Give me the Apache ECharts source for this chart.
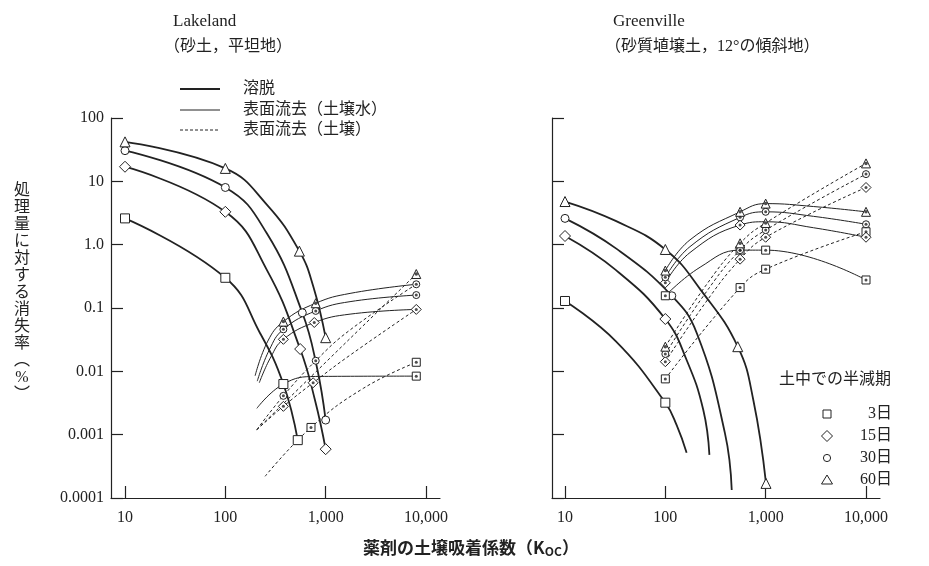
<!DOCTYPE html>
<html><head><meta charset="utf-8">
<script src="https://cdn.jsdelivr.net/npm/echarts@6/dist/echarts.min.js"></script>
<style>html,body{margin:0;padding:0;background:#fff}#c{width:929px;height:566px}</style>
</head><body><div id="c"></div>
<script>
// ---- tick labels ----
const kTickLabels = ['10', '100', '1,000', '10,000'];
const yTickLabels = ['0.0001', '0.001', '0.01', '0.1', '1.0', '10', '100'];
const halfLives = ['3日', '15日', '30日', '60日'];

// ---- Lakeland: leaching (溶脱) curves ----
const lkLeach3 = [[10,2.6],[100,0.30],[222,0.04],[379,0.0063],[527,0.00082]];
const lkLeach15 = [[10,17],[100,3.3],[259,0.4],[557,0.0225],[783,0.0035],[1000,0.00059]];
const lkLeach30 = [[10,30.5],[100,8.0],[259,1.51],[585,0.084],[815,0.0119],[1000,0.0017]];
const lkLeach60 = [[10,42],[100,16],[259,4.3],[547,0.79],[754,0.217],[1000,0.034]];
const lkLeach3Marks = [[10,2.6],[100,0.30],[379,0.0063],[527,0.00082]];
const lkLeach15Marks = [[10,17],[100,3.3],[557,0.0225],[1000,0.00059]];
const lkLeach30Marks = [[10,30.5],[100,8.0],[585,0.084],[1000,0.0017]];
const lkLeach60Marks = [[10,42],[100,16],[547,0.79],[1000,0.034]];
// Lakeland: runoff water (表面流去・土壌水)
const lkWater3 = [[206,0.0026],[379,0.0063],[796,0.0083],[8000,0.0084]];
const lkWater15 = [[218,0.0066],[285,0.017],[379,0.032],[770,0.059],[1750,0.080],[8000,0.095]];
const lkWater30 = [[208,0.007],[275,0.022],[379,0.046],[796,0.090],[1750,0.126],[8000,0.16]];
const lkWater60 = [[198,0.0085],[265,0.03],[379,0.061],[796,0.119],[1750,0.17],[8000,0.237]];
// Lakeland: runoff soil (表面流去・土壌)
const lkSoil3 = [[249,0.00022],[714,0.0013],[2377,0.0054],[8000,0.0139]];
const lkSoil15 = [[206,0.0012],[379,0.0028],[750,0.0066],[1750,0.018],[8000,0.095]];
const lkSoil30 = [[206,0.0012],[379,0.0041],[796,0.0147],[1750,0.045],[8000,0.237]];
const lkSoil60 = [[206,0.0012],[1750,0.033],[8000,0.344]];
// Lakeland runoff markers (with dot)
const lkDotTri = [[379,0.061],[796,0.119],[8000,0.344]];
const lkDotCir = [[379,0.046],[796,0.090],[8000,0.237],[8000,0.16],[379,0.0041],[796,0.0147]];
const lkDotDia = [[379,0.032],[770,0.059],[8000,0.095],[379,0.0028],[750,0.0066]];
const lkDotSq = [[8000,0.0084],[714,0.0013],[8000,0.0139]];

// ---- Greenville: leaching ----
const gvLeach3 = [[10,0.129],[32,0.03],[100,0.0032],[130,0.0014],[163,0.00052]];
const gvLeach15 = [[10,1.37],[32,0.4],[100,0.067],[163,0.0151],[239,0.00245],[275,0.00048]];
const gvLeach30 = [[10,2.6],[33,0.85],[116,0.156],[206,0.040],[393,0.00105],[459,0.000134]];
const gvLeach60 = [[10,4.8],[32,2.37],[100,0.84],[227,0.19],[527,0.0245],[754,0.0035],[1008,0.00017]];
const gvLeach3Marks = [[10,0.129],[100,0.0032]];
const gvLeach15Marks = [[10,1.37],[100,0.067]];
const gvLeach30Marks = [[10,2.6],[116,0.156]];
const gvLeach60Marks = [[10,4.8],[100,0.84],[527,0.0245],[1008,0.00017]];
// Greenville: runoff water
const gvWater3 = [[100,0.156],[222,0.44],[556,0.82],[1000,0.82],[10000,0.277]];
const gvWater15 = [[100,0.25],[176,0.75],[556,2.04],[1000,2.3],[3000,1.85],[10000,1.31]];
const gvWater30 = [[100,0.305],[176,0.93],[556,2.7],[1000,3.3],[3000,2.8],[10000,2.1]];
const gvWater60 = [[100,0.39],[176,1.19],[556,3.3],[1000,4.45],[3000,4.0],[10000,3.3]];
// Greenville: runoff soil
const gvSoil3 = [[100,0.0076],[556,0.21],[1000,0.41],[10000,1.6]];
const gvSoil15 = [[100,0.0142],[250,0.12],[556,0.59],[1000,1.31],[10000,8.0]];
const gvSoil30 = [[100,0.0188],[250,0.17],[556,0.82],[1000,1.7],[10000,13]];
const gvSoil60 = [[100,0.0245],[250,0.22],[556,1.05],[1000,2.2],[10000,19.2]];
// Greenville runoff markers (with dot)
const gvDotTri = [[100,0.39],[556,3.3],[1000,4.45],[10000,3.3],[100,0.0245],[556,1.05],[1000,2.2],[10000,19.2]];
const gvDotCir = [[100,0.305],[556,2.7],[1000,3.3],[10000,2.1],[100,0.0188],[556,0.82],[1000,1.7],[10000,13]];
const gvDotDia = [[100,0.25],[556,2.04],[10000,1.31],[100,0.0142],[556,0.59],[1000,1.31],[10000,8.0]];
const gvDotSq = [[100,0.156],[556,0.82],[1000,0.82],[10000,0.277],[100,0.0076],[556,0.21],[1000,0.41],[10000,1.6]];

// ---- styling ----
const INK = '#222';
const SERIF = "'Liberation Serif','Noto Sans CJK JP',serif";
const CJK = "'Liberation Serif','Noto Sans CJK JP',sans-serif";
const shapeOf = {sq:'rect', dia:'diamond', cir:'circle', tri:'triangle'};
const sizeOf = {sq:9, dia:11, cir:8, tri:10};

function curve(data, ai, kind) {
  return {type:'line', xAxisIndex:ai, yAxisIndex:ai, data:data, smooth:0.45,
    symbol:'none', clip:false, silent:true, z:2,
    lineStyle:{color:INK, width: kind==='leach'?1.8:1, type: kind==='soil'?[3,2.5]:'solid'}};
}
function marks(data, ai, shape, dot) {
  const s = [{type:'scatter', xAxisIndex:ai, yAxisIndex:ai, data:data, clip:false, silent:true, z:4,
    symbol:shapeOf[shape], symbolSize: dot ? sizeOf[shape]-1 : sizeOf[shape],
    itemStyle:{color:'#fff', borderColor:INK, borderWidth:1, opacity:1}}];
  if (dot) s.push({type:'scatter', xAxisIndex:ai, yAxisIndex:ai, data:data, clip:false, silent:true, z:5,
    symbol:'circle', symbolSize: shape==='tri'?3.5:3, itemStyle:{color:INK}});
  return s;
}

const L = 1, R = 3; // data axis indices
const series = [
  curve(lkLeach3,L,'leach'), curve(lkLeach15,L,'leach'), curve(lkLeach30,L,'leach'), curve(lkLeach60,L,'leach'),
  curve(lkWater3,L,'water'), curve(lkWater15,L,'water'), curve(lkWater30,L,'water'), curve(lkWater60,L,'water'),
  curve(lkSoil3,L,'soil'), curve(lkSoil15,L,'soil'), curve(lkSoil30,L,'soil'), curve(lkSoil60,L,'soil'),
  curve(gvLeach3,R,'leach'), curve(gvLeach15,R,'leach'), curve(gvLeach30,R,'leach'), curve(gvLeach60,R,'leach'),
  curve(gvWater3,R,'water'), curve(gvWater15,R,'water'), curve(gvWater30,R,'water'), curve(gvWater60,R,'water'),
  curve(gvSoil3,R,'soil'), curve(gvSoil15,R,'soil'), curve(gvSoil30,R,'soil'), curve(gvSoil60,R,'soil'),
  ...marks(lkLeach3Marks,L,'sq',false), ...marks(lkLeach15Marks,L,'dia',false),
  ...marks(lkLeach30Marks,L,'cir',false), ...marks(lkLeach60Marks,L,'tri',false),
  ...marks(lkDotSq,L,'sq',true), ...marks(lkDotDia,L,'dia',true),
  ...marks(lkDotCir,L,'cir',true), ...marks(lkDotTri,L,'tri',true),
  ...marks(gvLeach3Marks,R,'sq',false), ...marks(gvLeach15Marks,R,'dia',false),
  ...marks(gvLeach30Marks,R,'cir',false), ...marks(gvLeach60Marks,R,'tri',false),
  ...marks(gvDotSq,R,'sq',true), ...marks(gvDotDia,R,'dia',true),
  ...marks(gvDotCir,R,'cir',true), ...marks(gvDotTri,R,'tri',true)
];

const decade = v => Math.round(Math.log10(v));
function frameX(g){ return {gridIndex:g, type:'value', min:0, max:1, axisLine:{show:true, lineStyle:{color:INK, width:1.2}},
  axisTick:{show:false}, axisLabel:{show:false}, splitLine:{show:false}}; }
function dataX(g){ return {gridIndex:g, type:'log', logBase:10, min:10, max:10000,
  axisLine:{show:false}, splitLine:{show:false}, minorTick:{show:false},
  axisTick:{show:true, inside:true, length:12, lineStyle:{color:INK, width:1.2}},
  axisLabel:{show:true, margin:12, color:INK, fontFamily:SERIF, fontSize:16,
    formatter: v => kTickLabels[decade(v)-1]}}; }
function frameY(g, labels){ return {gridIndex:g, type:'log', logBase:10, min:0.0001, max:100, splitNumber:6,
  axisLine:{show:true, lineStyle:{color:INK, width:1.2}}, splitLine:{show:false}, minorTick:{show:false},
  axisTick:{show:true, inside:true, length:12, lineStyle:{color:INK, width:1.2}},
  axisLabel:{show:labels, margin:7, color:INK, fontFamily:SERIF, fontSize:16,
    formatter: v => yTickLabels[decade(v)+4]}}; }
function dataY(g){ return {gridIndex:g, type:'log', logBase:10, min:0.0001, max:100, show:false}; }

// graphic helpers (titles / legends)
function txt(x, y, text, size, align, extra) {
  return Object.assign({type:'text', x:x, y:y, silent:true,
    style:Object.assign({text:text, fill:INK, fontSize:size, fontFamily:CJK, align:align||'left', verticalAlign:'middle'}, extra||{})});
}
function hline(x1, x2, y, w, dash) {
  return {type:'line', silent:true, shape:{x1:x1, y1:y, x2:x2, y2:y}, style:{stroke:INK, lineWidth:w, lineDash:dash||null}};
}
const legX = 827, legRows = [414, 436, 458, 480];
const graphic = [
  txt(173, 22, 'Lakeland', 17, 'left', {fontFamily:SERIF}),
  txt(164, 47, '（砂土，平坦地）', 16),
  txt(613, 22, 'Greenville', 17, 'left', {fontFamily:SERIF}),
  txt(605, 47, '（砂質埴壌土，12°の傾斜地）', 16),
  hline(180, 220, 89, 2), txt(243, 89, '溶脱', 16),
  hline(180, 220, 110, 1), txt(243, 110, '表面流去（土壌水）', 16),
  hline(180, 220, 130, 1, [3,2]), txt(243, 130, '表面流去（土壌）', 16),
  txt(22, 182, '処\n理\n量\nに\n対\nす\nる\n消\n失\n率\n︵\n%\n︶', 16, 'center', {verticalAlign:'top', lineHeight:17}),
  {type:'text', x:471, y:548, silent:true, style:{text:'{a|薬剤の土壌吸着係数（K}{s|OC}{a|）}', fill:INK, align:'center', verticalAlign:'middle',
    rich:{a:{fontSize:17, fontWeight:'bold', fontFamily:"'Noto Sans CJK JP',sans-serif", fill:INK},
          s:{fontSize:12, fontWeight:'bold', fontFamily:"'Noto Sans CJK JP',sans-serif", fill:INK, padding:[6,0,0,0]}}}},
  txt(779, legRows[0]-34, '土中での半減期', 16),
  {type:'rect', silent:true, shape:{x:legX-4, y:legRows[0]-4, width:8, height:8}, style:{fill:'#fff', stroke:INK, lineWidth:1}},
  {type:'polygon', silent:true, shape:{points:[[legX,legRows[1]-5.5],[legX+5.5,legRows[1]],[legX,legRows[1]+5.5],[legX-5.5,legRows[1]]]}, style:{fill:'#fff', stroke:INK, lineWidth:1}},
  {type:'circle', silent:true, shape:{cx:legX, cy:legRows[2], r:3.6}, style:{fill:'#fff', stroke:INK, lineWidth:1}},
  {type:'polygon', silent:true, shape:{points:[[legX,legRows[3]-5],[legX+5.5,legRows[3]+4],[legX-5.5,legRows[3]+4]]}, style:{fill:'#fff', stroke:INK, lineWidth:1}},
  ...halfLives.map((h, i) => txt(892, legRows[i], h, 16, 'right'))
];

const chart = echarts.init(document.getElementById('c'), null, {renderer:'canvas'});
chart.setOption({
  backgroundColor:'#fff',
  animation:false,
  grid:[
    {left:111, top:118, width:329, height:380},
    {left:125, top:118, width:301, height:380},
    {left:552, top:118, width:328, height:380},
    {left:565, top:118, width:301, height:380}
  ],
  xAxis:[frameX(0), dataX(1), frameX(2), dataX(3)],
  yAxis:[frameY(0,true), dataY(1), frameY(2,false), dataY(3)],
  series: series,
  graphic: graphic
});
</script></body></html>
